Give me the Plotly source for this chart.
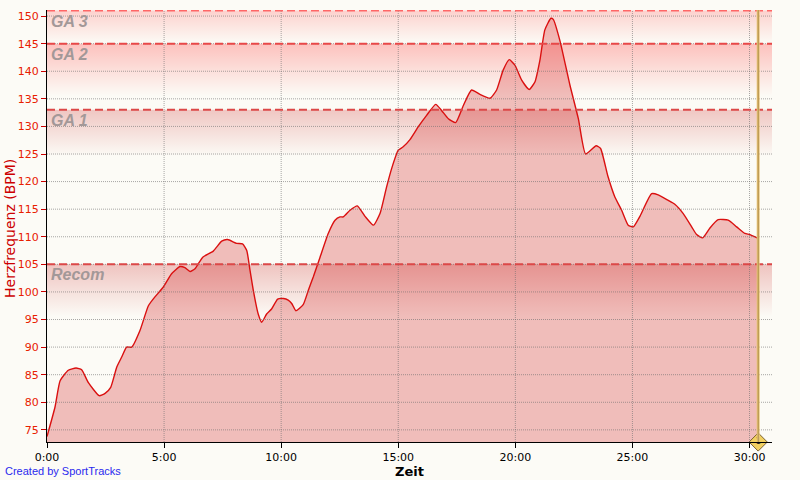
import plotly.graph_objects as go

# ---- data ----
time_min = [0.00, 0.34, 0.56, 0.91, 1.24, 1.48, 1.76, 2.23, 2.48, 2.72, 2.98, 3.19, 3.40, 3.62,
            3.97, 4.33, 4.61, 4.97, 5.32, 5.68, 5.89, 6.11, 6.32, 6.65, 7.10, 7.46, 7.71, 8.10,
            8.35, 8.53, 8.67, 8.81, 9.02, 9.17, 9.38, 9.59, 9.85, 10.10, 10.30, 10.45, 10.63,
            10.94, 11.16, 11.37, 11.66, 12.01, 12.30, 12.51, 12.65, 12.94, 13.25, 13.58, 13.94,
            14.22, 14.50, 14.72, 15.00, 15.21, 15.50, 15.85, 16.21, 16.60, 16.85, 17.14, 17.45,
            17.78, 18.13, 18.49, 18.92, 19.20, 19.48, 19.74, 19.98, 20.27, 20.59, 20.84, 21.05,
            21.26, 21.52, 21.62, 21.90, 22.33, 22.69, 23.00, 23.45, 23.64, 23.95, 24.25, 24.54,
            24.82, 25.04, 25.32, 25.82, 26.10, 26.53, 26.81, 27.17, 27.53, 27.74, 28.00, 28.31,
            28.66, 29.09, 29.45, 29.80, 30.02, 30.37]
heart_rate = [73.8, 79.1, 83.9, 85.8, 86.2, 85.9, 83.6, 81.2, 81.6, 82.7, 86.4, 88.2, 90.0, 90.0,
              93.0, 97.5, 99.1, 100.9, 103.3, 104.6, 104.4, 103.7, 104.2, 106.3, 107.4, 109.2, 109.5, 108.8,
              108.7, 107.5, 103.9, 100.3, 96.0, 94.5, 96.0, 96.9, 98.7, 98.8, 98.5, 97.9, 96.6,
              97.7, 100.3, 102.7, 106.3, 110.6, 113.0, 113.6, 113.6, 114.8, 115.6, 113.7, 112.1,
              114.2, 119.0, 122.4, 125.7, 126.3, 127.6, 129.9, 132.0, 134.0, 132.9, 131.4, 130.7,
              133.8, 136.6, 135.8, 135.1, 136.6, 140.2, 142.1, 141.1, 138.4, 136.7, 138.1, 142.0,
              147.5, 149.6, 149.4, 145.6, 137.5, 131.4, 125.0, 126.5, 126.0, 121.0, 117.2, 114.8,
              112.1, 111.8, 113.7, 117.8, 117.6, 116.6, 115.9, 114.2, 111.8, 110.4, 109.8, 111.6,
              113.1, 113.0, 111.8, 110.6, 110.4, 109.7]

zone_names = ["Recom", "GA 1", "GA 2", "GA 3"]
zone_bpm = [105, 133, 145, 151]

lap_marker_times = [30.37]
lap_marker_labels = ["1"]

x_tick_vals = [0, 5, 10, 15, 20, 25, 30]
x_tick_text = ["0:00", "5:00", "10:00", "15:00", "20:00", "25:00", "30:00"]
y_tick_vals = [75, 80, 85, 90, 95, 100, 105, 110, 115, 120, 125, 130, 135, 140, 145, 150]

# ---- style ----
X_RANGE = [0, 30.96]
Y_RANGE = [72.8, 151.1]
BG = "#FCFBF6"
zone_colors = ["rgba(192,0,0,0.22)", "rgba(192,0,0,0.21)", "rgba(255,0,0,0.23)", "rgba(255,20,20,0.18)"]
zone_fade = [9.5, 8.5, 9.5, 6.0]
zone_line_colors = ["#DC4848", "#DC4848", "#E84848", "#FF6666"]

fig = go.Figure()

# area fill
fig.add_trace(go.Scatter(
    x=time_min, y=heart_rate, mode="lines", line=dict(width=0, shape="spline", smoothing=0.5),
    fill="tozeroy", fillcolor="#F0BDBA", hoverinfo="skip", showlegend=False))

# zone gradient overlays
for name, top, col, fade in zip(zone_names, zone_bpm, zone_colors, zone_fade):
    bottom = top - fade
    fig.add_trace(go.Scatter(
        x=[X_RANGE[0], X_RANGE[1], X_RANGE[1], X_RANGE[0], X_RANGE[0]],
        y=[top, top, bottom, bottom, top],
        mode="lines", line=dict(width=0), fill="toself",
        fillgradient=dict(type="vertical",
                          colorscale=[[0, col.rsplit(",", 1)[0] + ",0)"], [1, col]]),
        hoverinfo="skip", showlegend=False))

# curve line
fig.add_trace(go.Scatter(
    x=time_min, y=heart_rate, mode="lines",
    line=dict(color="#DA1010", width=1.4, shape="spline", smoothing=0.5),
    hoverinfo="skip", showlegend=False))

shapes = []
# grid lines (above area)
for v in x_tick_vals[1:]:
    shapes.append(dict(type="line", xref="x", yref="paper", x0=v, x1=v, y0=0, y1=1,
                       line=dict(color="rgba(110,110,110,0.6)", width=1, dash="1px,1px"), layer="above"))
for v in y_tick_vals:
    shapes.append(dict(type="line", xref="paper", yref="y", x0=0, x1=1, y0=v, y1=v,
                       line=dict(color="rgba(110,110,110,0.6)", width=1, dash="1px,1px"), layer="above"))
# zone dashed lines
for top, lc in zip(zone_bpm, zone_line_colors):
    shapes.append(dict(type="line", xref="paper", yref="y", x0=0, x1=1, y0=top, y1=top,
                       line=dict(color=lc, width=2, dash="8px,4px"), layer="above"))
# lap marker line
for t in lap_marker_times:
    shapes.append(dict(type="line", xref="x", yref="paper", x0=t, x1=t, y0=0, y1=1,
                       line=dict(color="#EDC878", width=3), layer="above"))
    shapes.append(dict(type="line", xref="x", yref="paper", x0=t, x1=t, y0=0, y1=1,
                       line=dict(color="#A88848", width=1), layer="above"))

# lap diamond
fig.add_trace(go.Scatter(
    x=lap_marker_times, y=[Y_RANGE[0]] * len(lap_marker_times), mode="markers+text",
    marker=dict(symbol="diamond", size=14, color="#F2D060", line=dict(color="#7A6030", width=1)),
    text=lap_marker_labels, textposition="middle center",
    textfont=dict(family="DejaVu Sans", size=8, color="#222222"),
    cliponaxis=False, hoverinfo="skip", showlegend=False))

annotations = []
for name, top in zip(zone_names, zone_bpm):
    annotations.append(dict(xref="paper", yref="y", x=0, y=top, xanchor="left", yanchor="top",
                            xshift=2, yshift=0, showarrow=False, text=name,
                            font=dict(family="Liberation Sans", size=16, color="#A39898",
                                      weight="bold", style="italic")))
annotations.append(dict(xref="paper", yref="paper", x=0, y=0, xanchor="left", yanchor="middle",
                        xshift=-44, yshift=-29, showarrow=False, text="Created by SportTracks",
                        font=dict(family="Liberation Sans", size=11, color="#2a2aee")))
annotations.append(dict(xref="paper", yref="paper", x=0.5, y=0, xanchor="center", yanchor="middle",
                        yshift=-29, showarrow=False, text="<b>Zeit</b>",
                        font=dict(family="DejaVu Sans", size=13, color="black")))
annotations.append(dict(xref="paper", yref="paper", x=0, y=0.5, xanchor="center", yanchor="middle",
                        xshift=-37, yshift=-3, textangle=-90, showarrow=False, text="Herzfrequenz (BPM)",
                        font=dict(family="DejaVu Sans", size=14, color="#CC0000")))

fig.update_layout(
    width=800, height=480,
    margin=dict(l=47, r=28, t=10, b=38, autoexpand=False),
    paper_bgcolor=BG, plot_bgcolor=BG,
    shapes=shapes, annotations=annotations,
    showlegend=False,
    xaxis=dict(range=X_RANGE, tickvals=x_tick_vals, ticktext=x_tick_text, automargin=False,
               showgrid=False, zeroline=False, showline=True, linecolor="black", linewidth=1,
               ticks="outside", ticklen=5, tickcolor="black",
               tickfont=dict(family="DejaVu Sans", size=11, color="black")),
    yaxis=dict(range=Y_RANGE, tickvals=y_tick_vals, automargin=False,
               showgrid=False, zeroline=False, showline=True, linecolor="black", linewidth=1,
               ticks="outside", ticklen=5, tickcolor="#CC0000",
               tickfont=dict(family="DejaVu Sans", size=11, color="#E82000")),
)

fig.write_html("out.html", config={"displayModeBar": False},
               post_script="document.body.style.margin='0';document.body.style.background='" + BG + "';")
